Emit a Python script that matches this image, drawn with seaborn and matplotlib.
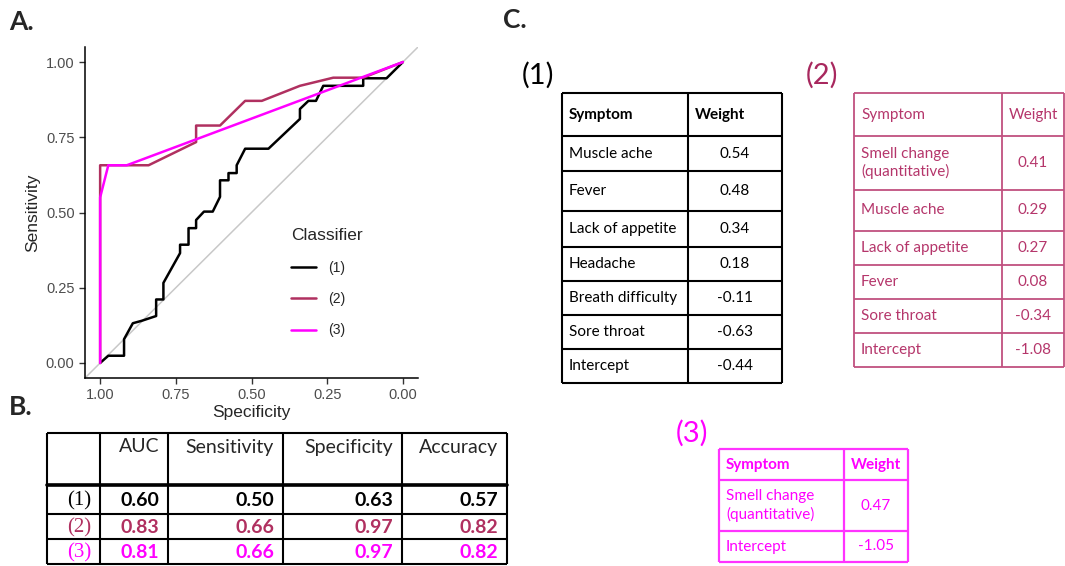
import pandas as pd
import matplotlib
matplotlib.use('Agg')
import matplotlib.pyplot as plt
import seaborn as sns

# curvas ROC (specificity, sensitivity)
spec1 = [1.0, 0.973, 0.921, 0.921, 0.892, 0.863, 0.815, 0.815, 0.791, 0.791,
         0.736, 0.736, 0.708, 0.708, 0.683, 0.683, 0.657, 0.628, 0.604, 0.604,
         0.576, 0.576, 0.549, 0.549, 0.521, 0.444, 0.340, 0.340, 0.312, 0.287,
         0.263, 0.131, 0.131, 0.054, 0.0]
sens1 = [0.0, 0.024, 0.024, 0.079, 0.132, 0.140, 0.156, 0.211, 0.211, 0.266,
         0.365, 0.393, 0.393, 0.448, 0.448, 0.475, 0.503, 0.503, 0.552, 0.607,
         0.607, 0.631, 0.631, 0.657, 0.712, 0.712, 0.811, 0.844, 0.871, 0.871,
         0.921, 0.921, 0.946, 0.946, 1.0]
spec2 = [1.0, 1.0, 0.84, 0.683, 0.683, 0.604, 0.521, 0.466, 0.34, 0.23, 0.131, 0.0]
sens2 = [0.0, 0.657, 0.657, 0.734, 0.789, 0.789, 0.871, 0.871, 0.921, 0.948, 0.948, 1.0]
spec3 = [1.0, 1.0, 0.973, 0.912, 0.0]
sens3 = [0.0, 0.55, 0.657, 0.657, 1.0]

classifiers = ['(1)', '(2)', '(3)']
colores = {'(1)': 'black', '(2)': '#B03060', '(3)': '#FF00FF'}
yticks = [0.0, 0.25, 0.5, 0.75, 1.0]

# tabla B
metricas = ['AUC', 'Sensitivity', 'Specificity', 'Accuracy']
auc = ['0.60', '0.83', '0.81']
sensibilidad = ['0.50', '0.66', '0.66']
especificidad = ['0.63', '0.97', '0.97']
precision = ['0.57', '0.82', '0.82']

# tablas C
sintomas1 = ['Muscle ache', 'Fever', 'Lack of appetite', 'Headache',
             'Breath difficulty', 'Sore throat', 'Intercept']
pesos1 = ['0.54', '0.48', '0.34', '0.18', '-0.11', '-0.63', '-0.44']
sintomas2 = ['Smell change\n(quantitative)', 'Muscle ache', 'Lack of appetite',
             'Fever', 'Sore throat', 'Intercept']
pesos2 = ['0.41', '0.29', '0.27', '0.08', '-0.34', '-1.08']
sintomas3 = ['Smell change\n(quantitative)', 'Intercept']
pesos3 = ['0.47', '-1.05']

df = pd.concat([
    pd.DataFrame({'spec': spec1, 'sens': sens1, 'Classifier': '(1)'}),
    pd.DataFrame({'spec': spec2, 'sens': sens2, 'Classifier': '(2)'}),
    pd.DataFrame({'spec': spec3, 'sens': sens3, 'Classifier': '(3)'}),
])

sns.set_style('ticks')
plt.rcParams['font.family'] = ['Liberation Sans', 'DejaVu Sans']

W, H = 1065, 566
fig = plt.figure(figsize=(W / 100, H / 100), dpi=100)

# capa en pixeles para las tablas y etiquetas
capa = fig.add_axes([0, 0, 1, 1])
capa.set_xlim(0, W)
capa.set_ylim(H, 0)
capa.axis('off')

# ---- A. curva ROC
ax = fig.add_axes([85 / W, 1 - 378 / H, (418 - 85) / W, (378 - 47) / H])
ax.plot([1.05, -0.05], [-0.05, 1.05], color='#C8C8C8', lw=1.1, zorder=1)
sns.lineplot(data=df, x='spec', y='sens', hue='Classifier', hue_order=classifiers,
             palette=colores, sort=False, estimator=None, lw=1.8, ax=ax, zorder=2)
ax.set_xlim(1.05, -0.05)
ax.set_ylim(-0.05, 1.05)
ax.set_xticks(yticks)
ax.set_yticks(yticks)
ax.set_xticklabels(['%.2f' % t for t in yticks])
ax.set_yticklabels(['%.2f' % t for t in yticks])
ax.tick_params(colors='#333333', labelcolor='#4D4D4D', labelsize=10.5, length=4, width=1)
ax.set_xlabel('Specificity', fontsize=12.5, labelpad=2)
ax.set_ylabel('Sensitivity', fontsize=12.5, labelpad=4)
for s in ['left', 'bottom']:
    ax.spines[s].set_linewidth(1.1)
    ax.spines[s].set_color('black')
sns.despine(ax=ax)
ax.patch.set_alpha(0)
leg = ax.legend(title='Classifier', loc='upper left', bbox_to_anchor=(0.58, 0.49),
                frameon=False, fontsize=10, title_fontsize=12.5, handlelength=1.8,
                handletextpad=0.9, labelspacing=1.25)
leg._legend_box.align = 'left'

# ---- etiquetas de panel
for txt, x, y in [('A.', 9, 22), ('B.', 9, 407), ('C.', 503, 20)]:
    capa.text(x, y, txt, fontsize=19, fontweight='bold', family='Lato', va='center', ha='left')


def rejilla(xs, ys, color, lw):
    for x in xs:
        capa.plot([x, x], [ys[0], ys[-1]], color=color, lw=lw, solid_capstyle='butt')
    for y in ys:
        capa.plot([xs[0], xs[-1]], [y, y], color=color, lw=lw, solid_capstyle='butt')


# ---- B. tabla de metricas
bx = [47, 100, 168, 283, 402, 507]
by = [433, 485, 514, 539, 564]
rejilla(bx, by, 'black', 1.5)
capa.plot([bx[0], bx[-1]], [by[1], by[1]], color='black', lw=2.6)
for i, m in enumerate(metricas):
    capa.text(bx[i + 2] - 9, 447, m, fontsize=14, family='Lato', ha='right', va='center')
filas = list(zip(auc, sensibilidad, especificidad, precision))
for r, c in enumerate(classifiers):
    yc = (by[r + 1] + by[r + 2]) / 2 + 1
    capa.text(bx[1] - 9, yc, c, fontsize=15, family='Liberation Serif', ha='right',
              va='center', color=colores[c])
    for i, v in enumerate(filas[r]):
        capa.text(bx[i + 2] - 9, yc, v, fontsize=14, family='Lato', fontweight='bold',
                  ha='right', va='center', color=colores[c])


def tabla_pesos(xs, ys, sintomas, pesos, color, txtcolor, lw, negrita, fs):
    rejilla(xs, ys, color, lw)
    peso = 'bold' if negrita else 'normal'
    yh = (ys[0] + ys[1]) / 2
    capa.text(xs[0] + 7, yh, 'Symptom', fontsize=fs, family='Lato', fontweight=peso,
              ha='left', va='center', color=txtcolor)
    capa.text(xs[1] + 7, yh, 'Weight', fontsize=fs, family='Lato', fontweight=peso,
              ha='left', va='center', color=txtcolor)
    for k, (s, p) in enumerate(zip(sintomas, pesos)):
        yc = (ys[k + 1] + ys[k + 2]) / 2
        capa.text(xs[0] + 7, yc, s, fontsize=fs, family='Lato', ha='left', va='center',
                  color=txtcolor, linespacing=1.3)
        capa.text((xs[1] + xs[2]) / 2, yc, p, fontsize=fs, family='Lato', ha='center',
                  va='center', color=txtcolor)


# ---- C. tablas de pesos
capa.text(522, 75, '(1)', fontsize=21, family='Lato', va='center', ha='left', color='black')
tabla_pesos([562, 688, 782], [93, 136, 171, 211, 247, 281, 315, 349, 383],
            sintomas1, pesos1, 'black', 'black', 1.5, True, 11)

capa.text(806, 75, '(2)', fontsize=21, family='Lato', va='center', ha='left', color='#A8285E')
tabla_pesos([854, 1002, 1064], [93, 136, 190, 231, 265, 299, 333, 367],
            sintomas2, pesos2, '#C0507F', '#B5366B', 1.3, False, 11)

capa.text(676, 433, '(3)', fontsize=21, family='Lato', va='center', ha='left', color='#FF00FF')
tabla_pesos([719, 844, 908], [449, 480, 531, 562],
            sintomas3, pesos3, '#FF33FF', '#FF00FF', 1.6, True, 11)

fig.savefig('out.png', dpi=100)
